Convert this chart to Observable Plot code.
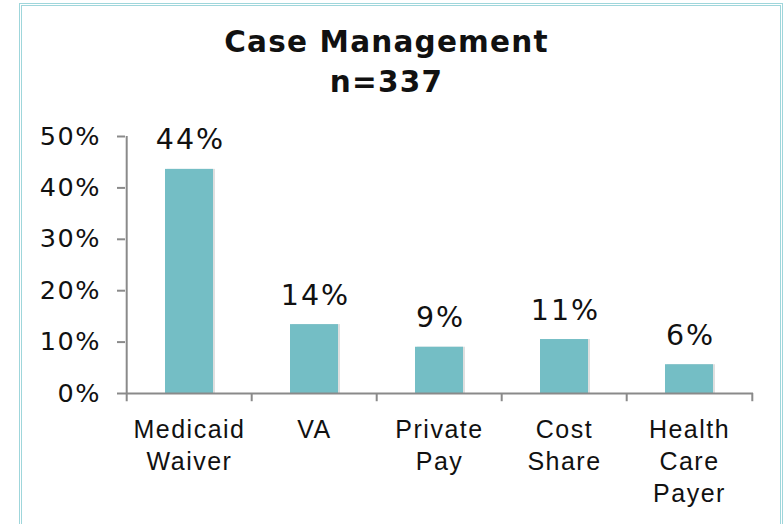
<!DOCTYPE html>
<html>
<head>
<meta charset="utf-8">
<script src="https://cdn.jsdelivr.net/npm/d3@7"></script>
<script src="https://cdn.jsdelivr.net/npm/@observablehq/plot@0.6"></script>
<style>
  html, body { margin: 0; padding: 0; background: #fff; overflow: hidden; }
  #frame { position: absolute; left: 19px; top: 3px; width: 764px; height: 560px; box-sizing: border-box;
           border: 3px double #9fd6db; border-bottom: none; }
  #title { position: absolute; left: 0; top: 22px; width: 773px; text-align: center;
           font-family: "DejaVu Sans", sans-serif; font-weight: bold; font-size: 29.5px; line-height: 40px;
           letter-spacing: 1.2px; color: #111; }
  #chart { position: absolute; left: 0; top: 0; }
  g[aria-label="y-axis tick label"] { letter-spacing: 1.5px; }
  g[aria-label="x-axis tick label"] { letter-spacing: 1.5px; }
  g[aria-label="text"] { letter-spacing: 2px; }
</style>
</head>
<body>
<div id="frame"></div>
<div id="chart"></div>
<div id="title"></div>
<script>
const titleLines = ["Case Management", "n=337"];
const categories = ["Medicaid\nWaiver", "VA", "Private\nPay", "Cost\nShare", "Health\nCare\nPayer"];
const values = [43.6, 13.4, 9.0, 10.5, 5.6];
const valueLabels = ["44%", "14%", "9%", "11%", "6%"];
const yTicks = [0, 10, 20, 30, 40, 50];

const data = categories.map((c, i) => ({cat: c, value: values[i], label: valueLabels[i]}));

const W = 783, H = 524, mL = 125, mR = 30, mT = 136, mB = 131;
const step = (W - mL - mR) / categories.length;
const axisColor = "#8a8a8a";

document.getElementById("title").innerHTML = titleLines.join("<br>");

const chart = Plot.plot({
  width: W, height: H,
  marginLeft: mL, marginRight: mR, marginTop: mT, marginBottom: mB,
  style: {fontFamily: "DejaVu Sans", color: "#111", background: "transparent", overflow: "visible"},
  x: {domain: categories, paddingInner: 0.62, paddingOuter: 0.31},
  y: {domain: [0, 50]},
  marks: [
    Plot.barY(data, {x: "cat", y: "value", fill: "#c4c4c4", fillOpacity: 0.55, dx: 2}),
    Plot.barY(data, {x: "cat", y: "value", fill: "#74bec5"}),
    Plot.ruleY([0], {stroke: axisColor, strokeWidth: 2}),
    Plot.ruleX([categories[0]], {x: d => d, y1: 50, y2: -1.6, dx: -step / 2, stroke: axisColor, strokeWidth: 2}),
    Plot.ruleX(categories.slice(1), {x: d => d, y1: 0, y2: -1.6, dx: -step / 2, stroke: axisColor, strokeWidth: 2}),
    Plot.ruleX([categories[categories.length - 1]], {x: d => d, y1: 0, y2: -1.6, dx: step / 2, stroke: axisColor, strokeWidth: 2}),
    Plot.axisY({ticks: yTicks, tickFormat: d => d + "%", tickSize: 8, tickPadding: 16.5,
                stroke: axisColor, strokeWidth: 2, fill: "#111", fontSize: 25.5, fontFamily: "DejaVu Sans", label: null}),
    Plot.axisX({tickSize: 0, tickPadding: 22, fontSize: 25, fontFamily: "Liberation Sans",
                lineHeight: 1.28, fill: "#111", label: null}),
    Plot.text(data, {x: "cat", y: "value", text: "label", dy: -20, dx: 1, lineAnchor: "bottom",
                     fontSize: 28.5, fontFamily: "DejaVu Sans", fill: "#111"})
  ]
});
document.getElementById("chart").appendChild(chart);
</script>
</body>
</html>
